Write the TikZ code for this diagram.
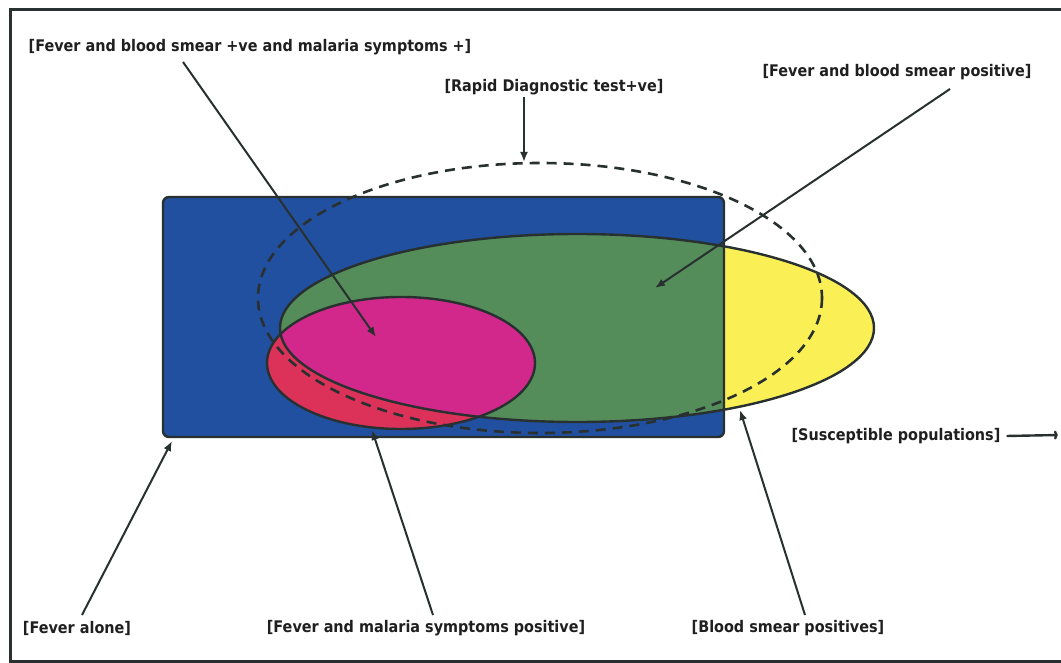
\documentclass[tikz,border=0pt]{standalone}
\usepackage{fontspec}
\setmainfont{DejaVu Sans}
\newfontfamily\lblfont[FakeStretch=0.9]{DejaVu Sans}
\usetikzlibrary{arrows.meta}
\definecolor{cblue}{RGB}{34,80,160}
\definecolor{cgreen}{RGB}{84,140,90}
\definecolor{cyellow}{RGB}{250,240,85}
\definecolor{cmag}{RGB}{210,40,140}
\definecolor{cred}{RGB}{220,50,90}
\definecolor{dk}{RGB}{40,48,48}
\begin{document}
\begin{tikzpicture}[x=1pt,y=-1pt,
  lbl/.style={font=\lblfont\fontsize{16}{18}\selectfont\bfseries, text=black!88, inner sep=0pt},
  outl/.style={draw=dk, line width=2.4pt},
  arr/.style={draw=dk, line width=2pt, -{Latex[length=10pt,width=8pt]}},
  rdt/.style={draw=dk, line width=2.6pt, dash pattern=on 10pt off 7pt}
]
\useasboundingbox (0,0) rectangle (1061,663);
\fill[white] (0,0) rectangle (1061,663);
\draw[line width=3pt, dk] (1070,10) -- (10,10) -- (10,661) -- (1070,661);

% shapes
\fill[cblue, rounded corners=6pt] (163,197) rectangle (724,437);
\fill[cyellow] (577,328) ellipse [x radius=297, y radius=94];
\begin{scope}
  \clip[rounded corners=6pt] (163,197) rectangle (724,437);
  \fill[cgreen] (577,328) ellipse [x radius=297, y radius=94];
\end{scope}
\fill[cred] (401,363) ellipse [x radius=134, y radius=66];
\begin{scope}
  \clip (577,328) ellipse [x radius=297, y radius=94];
  \fill[cmag] (401,363) ellipse [x radius=134, y radius=66];
\end{scope}
\draw[outl] (401,363) ellipse [x radius=134, y radius=66];
\draw[outl] (577,328) ellipse [x radius=297, y radius=94];
\draw[outl, rounded corners=6pt] (163,197) rectangle (724,437);
\draw[rdt] (540,298) ellipse [x radius=282, y radius=135];

% labels
\node[lbl] (l1) at (250,47) {[Fever and blood smear +ve and malaria symptoms +]};
\node[lbl] (l2) at (554,87) {[Rapid Diagnostic test+ve]};
\node[lbl] (l3) at (897,72) {[Fever and blood smear positive]};
\node[lbl] (l4) at (896,436) {[Susceptible populations]};
\node[lbl] (l5) at (77,628) {[Fever alone]};
\node[lbl] (l6) at (426,628) {[Fever and malaria symptoms positive]};
\node[lbl] (l7) at (788,628) {[Blood smear positives]};

% connector end points
\coordinate (s1) at (183,62);  \coordinate (t1) at (376,337);
\coordinate (s2) at (524,97);  \coordinate (t2) at (524,162);
\coordinate (s3) at (950,89);  \coordinate (t3) at (655,288);
\coordinate (t4) at (1058,435);
\coordinate (s5) at (82,615);  \coordinate (t5) at (172,441);
\coordinate (s6) at (433,615); \coordinate (t6) at (372,430);
\coordinate (s7) at (805,615); \coordinate (t7) at (740,410);

\draw[arr] (s1) -- (t1);
\draw[arr] (s2) -- (t2);
\draw[arr] (s3) -- (t3);
\draw[draw=dk, line width=2.4pt, -{To[length=4pt,width=9pt]}] ([xshift=6pt]l4.east) -- (t4);
\draw[arr] (s5) -- (t5);
\draw[arr] (s6) -- (t6);
\draw[arr] (s7) -- (t7);
\end{tikzpicture}
\end{document}
